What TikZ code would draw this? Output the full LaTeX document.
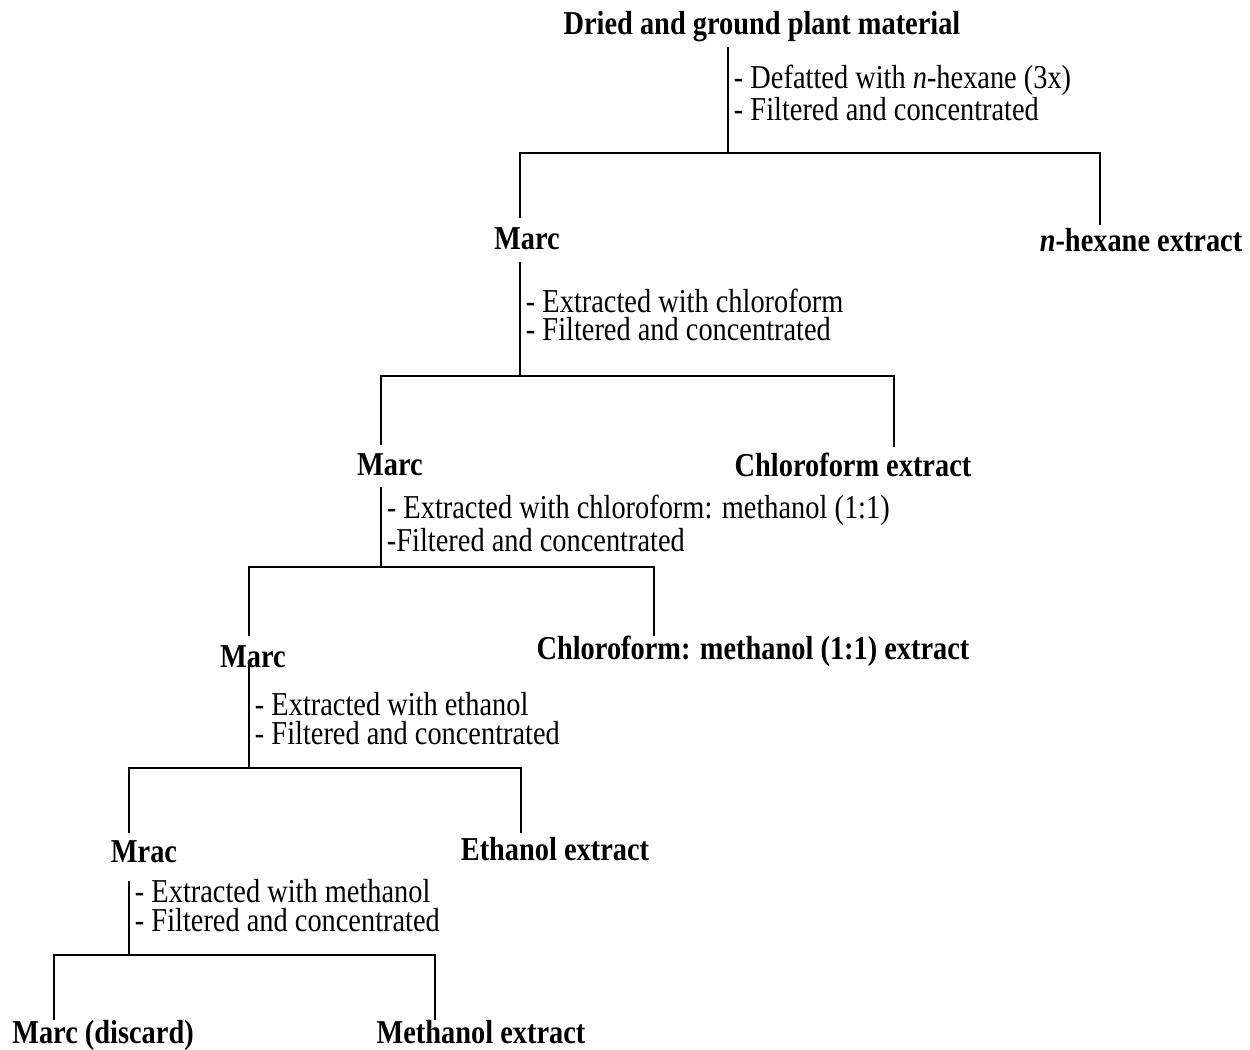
\documentclass[tikz,border=0pt]{standalone}
\usepackage{fontspec}
\setmainfont{Liberation Serif}[FakeStretch=0.85]
\begin{document}
\begin{tikzpicture}[x=0.02cm, y=-0.02cm, line width=1.1pt,
  every node/.style={inner sep=0pt, font=\fontsize{19pt}{16pt}\selectfont},
  prod/.style={anchor=base, font=\fontsize{19pt}{16pt}\selectfont\bfseries},
  note/.style={anchor=base west, align=left}]
\useasboundingbox (0,0) rectangle (1250,1050);
% starting material
\node[prod] (plant) at (762,35) {Dried and ground plant material};
\coordinate (f0) at (728,153);
\coordinate (m1) at (520,218);
\coordinate (e1) at (1100,225);
\draw[shorten <=2pt] (plant.south -| f0) -- (f0);
\draw (m1) |- (e1 |- f0) -- (e1);
\node[note] (n0) at (733,121) {- Defatted with \textit{n}-hexane (3x)\\- Filtered and concentrated};
\node[prod] (marc1) at (527,250) {Marc};
\node[prod] (hex) at (1141,252) {\textit{n}-hexane extract};
% chloroform
\coordinate (f1) at (520,376);
\coordinate (m2) at (381,445);
\coordinate (e2) at (894,447);
\draw[shorten <=6pt] (marc1.south -| f1) -- (f1);
\draw (m2) |- (e2 |- f1) -- (e2);
\node[note] (n1) at (525,341) {- Extracted with chloroform\\- Filtered and concentrated};
\node[prod] (marc2) at (390,475) {Marc};
\node[prod] (chl) at (853,477) {Chloroform extract};
% chloroform: methanol
\coordinate (f2) at (381,567);
\coordinate (m3) at (249,636);
\coordinate (e3) at (654,636);
\draw[shorten <=6pt] (marc2.south -| f2) -- (f2);
\draw (m3) |- (e3 |- f2) -- (e3);
\node[note] (n2) at (386,551) {- Extracted with chloroform: methanol (1:1)\\-Filtered and concentrated};
\node[prod] (marc3) at (253,667) {Marc};
\node[prod] (cme) at (753,659) {Chloroform: methanol (1:1) extract};
% ethanol
\coordinate (f3) at (249,768);
\coordinate (m4) at (129,833);
\coordinate (e4) at (521,833);
\draw[shorten <=-4pt] (marc3.south -| f3) -- (f3);
\draw (m4) |- (e4 |- f3) -- (e4);
\node[note] (n3) at (254,744) {- Extracted with ethanol\\- Filtered and concentrated};
\node[prod] (mrac) at (144,862) {Mrac};
\node[prod] (eth) at (555,860) {Ethanol extract};
% methanol
\coordinate (f4) at (129,955);
\coordinate (m5) at (54,1020);
\coordinate (e5) at (435,1020);
\draw[shorten <=10pt] (mrac.south -| f4) -- (f4);
\draw (m5) |- (e5 |- f4) -- (e5);
\node[note] (n4) at (134,931) {- Extracted with methanol\\- Filtered and concentrated};
\node[prod] (marc5) at (103,1043) {Marc (discard)};
\node[prod] (meth) at (481,1043) {Methanol extract};
\end{tikzpicture}
\end{document}
